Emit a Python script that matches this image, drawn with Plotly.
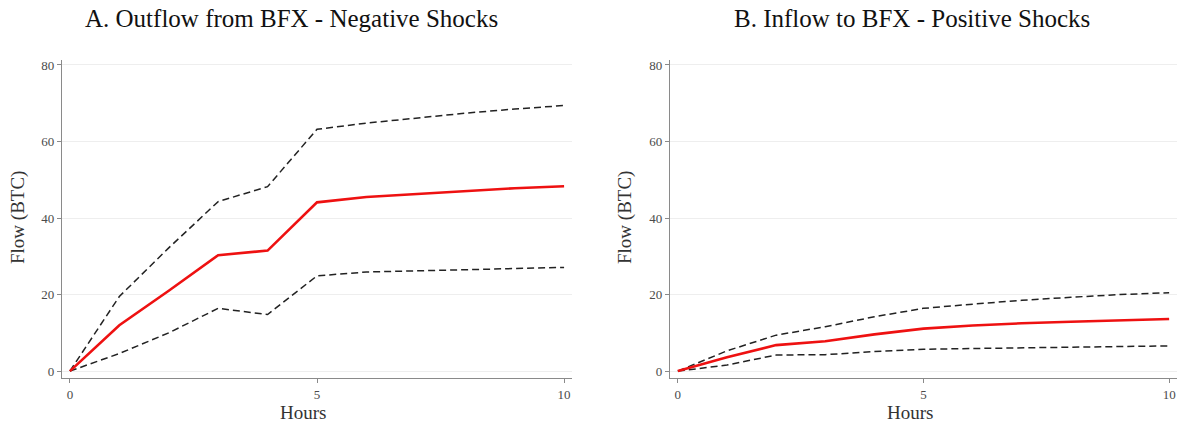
import plotly.graph_objects as go

hours = [0, 1, 2, 3, 4, 5, 6, 7, 8, 9, 10]

# Panel A: Outflow from BFX - Negative shocks
a_mean = [0, 12.0, 21.0, 30.3, 31.5, 44.1, 45.5, 46.3, 47.1, 47.8, 48.3]
a_upper = [0, 19.5, 32.2, 44.3, 48.2, 63.2, 64.8, 66.1, 67.4, 68.5, 69.4]
a_lower = [0, 4.6, 10.0, 16.4, 14.8, 24.9, 25.9, 26.2, 26.5, 26.8, 27.1]

# Panel B: Inflow to BFX - Positive shocks
b_mean = [0, 3.6, 6.8, 7.8, 9.6, 11.1, 11.9, 12.5, 12.9, 13.3, 13.6]
b_upper = [0, 5.3, 9.4, 11.6, 14.2, 16.4, 17.5, 18.5, 19.3, 20.0, 20.5]
b_lower = [0, 1.6, 4.2, 4.3, 5.1, 5.7, 5.9, 6.1, 6.3, 6.4, 6.6]

titles = ["A. Outflow from BFX - Negative Shocks", "B. Inflow to BFX - Positive Shocks"]
x_title = "Hours"
y_title = "Flow (BTC)"
y_ticks = [0, 20, 40, 60, 80]
x_ticks = [0, 5, 10]

FONT = "Liberation Serif"
W, H = 1183, 425
fig = go.Figure()

panels = [(a_mean, a_upper, a_lower, "x", "y"), (b_mean, b_upper, b_lower, "x2", "y2")]
for mean, upper, lower, xa, ya in panels:
    for ser in (upper, lower):
        fig.add_trace(go.Scatter(x=hours, y=ser, mode="lines", xaxis=xa, yaxis=ya,
                                 line=dict(color="#222222", width=1.5, dash="7px,4px"),
                                 showlegend=False, hoverinfo="skip"))
    fig.add_trace(go.Scatter(x=hours, y=mean, mode="lines", xaxis=xa, yaxis=ya,
                             line=dict(color="#ee1111", width=2.6),
                             showlegend=False))

xcommon = dict(range=[-0.16, 10.16], tickvals=x_ticks, showgrid=False, zeroline=False,
               showline=True, linecolor="#8a8a8a", linewidth=1.3, ticks="outside",
               ticklen=4, tickcolor="#8a8a8a", automargin=False,
               tickfont=dict(family=FONT, size=13, color="#4a4a4a"))
ycommon = dict(range=[-1.8, 81.3], tickvals=y_ticks, showgrid=True, gridcolor="#eeeeee",
               gridwidth=1, zeroline=False, showline=True, linecolor="#8a8a8a",
               linewidth=1.3, ticks="outside", ticklen=4, tickcolor="#8a8a8a",
               automargin=False,
               tickfont=dict(family=FONT, size=13, color="#4a4a4a"))

ydom = [1 - 378 / H, 1 - 60 / H]
xdom1 = [62 / W, 572 / W]
xdom2 = [670 / W, 1177 / W]

ann = []
for t, cx in zip(titles, [291 / W, 912 / W]):
    ann.append(dict(text=t, x=cx, y=1 - 18 / H, xref="paper", yref="paper",
                    showarrow=False, xanchor="center", yanchor="middle",
                    font=dict(family=FONT, size=25, color="#111111")))
for cx in [303 / W, 910 / W]:
    ann.append(dict(text=x_title, x=cx, y=1 - 412 / H, xref="paper", yref="paper",
                    showarrow=False, xanchor="center", yanchor="middle",
                    font=dict(family=FONT, size=19, color="#333333")))
for cx in [18 / W, 625 / W]:
    ann.append(dict(text=y_title, x=cx, y=1 - 218 / H, xref="paper", yref="paper",
                    showarrow=False, xanchor="center", yanchor="middle", textangle=-90,
                    font=dict(family=FONT, size=19, color="#333333")))

fig.update_layout(
    width=W, height=H,
    margin=dict(l=0, r=0, t=0, b=0),
    paper_bgcolor="white", plot_bgcolor="white",
    xaxis=dict(domain=xdom1, anchor="y", **xcommon),
    yaxis=dict(domain=ydom, anchor="x", **ycommon),
    xaxis2=dict(domain=xdom2, anchor="y2", **xcommon),
    yaxis2=dict(domain=ydom, anchor="x2", **ycommon),
    annotations=ann,
)

fig.write_html("out.html", config={"displayModeBar": False},
               post_script="document.body.style.margin='0';document.body.style.padding='0';document.body.style.overflow='hidden';")
